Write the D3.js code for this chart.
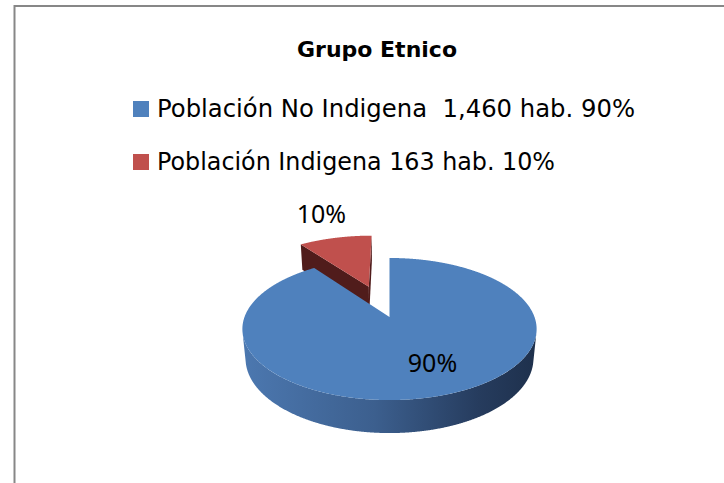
<!DOCTYPE html>
<html>
<head>
<meta charset="utf-8">
<script src="https://cdn.jsdelivr.net/npm/d3@7"></script>
<style>
  html, body { margin: 0; padding: 0; background: #fff; }
  svg { display: block; }
</style>
</head>
<body>
<svg id="chart" width="724" height="483"></svg>
<script>
// ---- data ----
const chartTitle = "Grupo Etnico";
const categories = ["Población No Indigena", "Población Indigena"];
const habitantes = [1460, 163];
const legendLabels = ["Población No Indigena  1,460 hab. 90%", "Población Indigena 163 hab. 10%"];
const percentLabels = ["90%", "10%"];

// ---- setup ----
const W = 724, H = 483;
const svg = d3.select("#chart");
svg.append("rect").attr("width", W).attr("height", H).attr("fill", "#fff");

// chart frame (top and left edges)
svg.append("path")
  .attr("d", `M14.5,${H} L14.5,6 L${W},6`)
  .attr("fill", "none")
  .attr("stroke", "#878787")
  .attr("stroke-width", 2);

const color = d3.scaleOrdinal().domain(categories).range(["#4F81BD", "#C0504D"]);
const darkColor = d3.scaleOrdinal().domain(categories).range(["#1F3350", "#501C1B"]);
const sideStops = {
  "Población No Indigena": ["#4C78B0", "#3C5F8E", "#263C5E", "#1E304C"],
  "Población Indigena": ["#B04A47", "#8E3C3A", "#5E2726", "#4C1F1E"]
};

// ---- 3D pie geometry ----
const geo = { cx: 389.5, cy: 317, R: 145, T: 34, f: 754, sinP: 0.476 };
geo.cosP = Math.sqrt(1 - geo.sinP * geo.sinP);
const explodeDist = [0, 72];

// perspective projection: X right, Y away from viewer, Z up
function project(X, Y, Z) {
  const d = Y * geo.cosP - Z * geo.sinP;
  const s = geo.f / (geo.f + d);
  return [geo.cx + X * s, geo.cy - (Y * geo.sinP + Z * geo.cosP) * s];
}
const cam = [0, -geo.f * geo.cosP, geo.f * geo.sinP];

const defs = svg.append("defs");
categories.forEach((c, i) => {
  const g = defs.append("linearGradient")
    .attr("id", "side" + i)
    .attr("gradientUnits", "userSpaceOnUse")
    .attr("x1", geo.cx - geo.R * 1.02).attr("y1", 0)
    .attr("x2", geo.cx + geo.R * 1.02).attr("y2", 0);
  const st = sideStops[c];
  [0, 0.45, 0.8, 1].forEach((o, k) => g.append("stop").attr("offset", o).attr("stop-color", st[k]));
});

const pie = d3.pie().sort(null).value(d => d.v);
const arcs = pie(categories.map((c, i) => ({ c, v: habitantes[i], i })));

const line = d3.line();
const closed = pts => line(pts) + "Z";

const slices = arcs.map(a => {
  const mid = (a.startAngle + a.endAngle) / 2;
  const e = explodeDist[a.data.i];
  const ox = e * Math.sin(mid), oy = e * Math.cos(mid);
  const pt = (ang, r, z) => project(ox + r * Math.sin(ang), oy + r * Math.cos(ang), z);
  const depth = (oy + geo.R / 2 * Math.cos(mid)) * geo.cosP;
  return { a, mid, ox, oy, pt, depth };
});

const arcPts = (s, a0, a1, z) => {
  const n = Math.max(2, Math.ceil(Math.abs(a1 - a0) / 0.004));
  return d3.range(n + 1).map(k => s.pt(a0 + (a1 - a0) * k / n, geo.R, z));
};

const pieG = svg.append("g");
slices.slice().sort((p, q) => q.depth - p.depth).forEach(s => {
  const { a, ox, oy } = s;
  const cat = a.data.c, i = a.data.i;
  const g = pieG.append("g");
  const a0 = a.startAngle, a1 = a.endAngle;

  // radial walls facing the viewer
  [[a0, -Math.cos(a0), Math.sin(a0)], [a1, Math.cos(a1), -Math.sin(a1)]].forEach(([ang, nx, ny]) => {
    const dot = nx * (cam[0] - ox) + ny * (cam[1] - oy);
    if (dot > 1) {
      g.append("path")
        .attr("d", closed([s.pt(ang, 0, 0), s.pt(ang, geo.R, 0), s.pt(ang, geo.R, -geo.T), s.pt(ang, 0, -geo.T)]))
        .attr("fill", darkColor(cat));
    }
  });

  // outer curved wall: keep the part that faces the viewer
  const step = 0.002;
  const vis = d3.range(a0, a1 + step / 2, step).map(t => Math.min(t, a1)).filter(t => {
    const nx = Math.sin(t), ny = Math.cos(t);
    const px = ox + geo.R * nx, py = oy + geo.R * ny;
    return nx * (cam[0] - px) + ny * (cam[1] - py) > 0;
  });
  if (vis.length > 1) {
    const v0 = vis[0], v1 = vis[vis.length - 1];
    const top = arcPts(s, v0, v1, 0);
    const bot = arcPts(s, v1, v0, -geo.T);
    g.append("path").attr("d", closed(top.concat(bot))).attr("fill", `url(#side${i})`);
  }

  // top face
  const topFace = [s.pt(0, 0, 0)].concat(arcPts(s, a0, a1, 0));
  g.append("path").attr("d", closed(topFace)).attr("fill", color(cat));
});

// ---- percentage labels ----
const insideShift = 12;
slices.forEach(s => {
  const small = (s.a.endAngle - s.a.startAngle) < Math.PI / 4;
  const p = small ? s.pt(s.mid, geo.R * 1.62, 0) : s.pt(s.mid, geo.R * 0.62, 0);
  svg.append("text")
    .attr("x", p[0] + (small ? 3 : insideShift))
    .attr("y", p[1])
    .attr("text-anchor", "middle")
    .attr("dominant-baseline", "central")
    .attr("font-family", "'Noto Sans', 'Open Sans', sans-serif")
    .attr("font-size", 25)
    .attr("fill", "#000")
    .text(percentLabels[s.a.data.i]);
});

// ---- title ----
svg.append("text")
  .attr("x", 377).attr("y", 57)
  .attr("text-anchor", "middle")
  .attr("font-family", "'DejaVu Sans', sans-serif")
  .attr("font-weight", "bold")
  .attr("font-size", 22)
  .attr("textLength", 160)
  .attr("lengthAdjust", "spacingAndGlyphs")
  .attr("fill", "#000")
  .text(chartTitle);

// ---- legend ----
const legendWidths = [478, 398];
const legend = svg.append("g").selectAll("g").data(categories).join("g")
  .attr("transform", (d, i) => `translate(133,${117 + i * 53})`);
legend.append("rect")
  .attr("x", 0).attr("y", -16).attr("width", 16).attr("height", 16)
  .attr("fill", d => color(d));
legend.append("text")
  .attr("x", 24).attr("y", 0)
  .attr("font-family", "'DejaVu Sans', sans-serif")
  .attr("font-size", 24)
  .attr("textLength", (d, i) => legendWidths[i])
  .attr("lengthAdjust", "spacingAndGlyphs")
  .attr("fill", "#000")
  .style("white-space", "pre")
  .text((d, i) => legendLabels[i]);
</script>
</body>
</html>
